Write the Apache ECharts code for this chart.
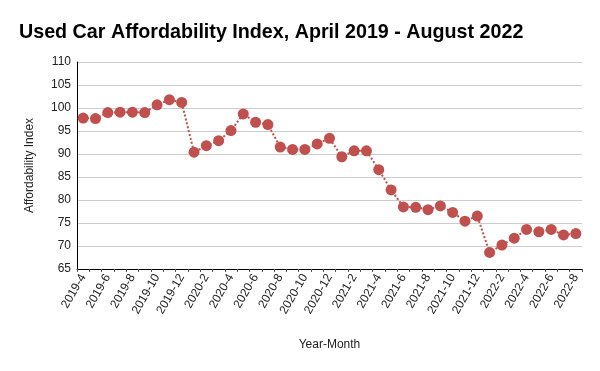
<!DOCTYPE html>
<html><head><meta charset="utf-8">
<script src="https://cdn.jsdelivr.net/npm/echarts@6/dist/echarts.min.js"></script>
<style>html,body{margin:0;padding:0;background:#fff}#c{width:600px;height:371px}</style>
</head><body><div id="c"></div>
<script>
const categories = [
 '2019-4','2019-5','2019-6','2019-7','2019-8','2019-9','2019-10','2019-11','2019-12',
 '2020-1','2020-2','2020-3','2020-4','2020-5','2020-6','2020-7','2020-8','2020-9','2020-10','2020-11','2020-12',
 '2021-1','2021-2','2021-3','2021-4','2021-5','2021-6','2021-7','2021-8','2021-9','2021-10','2021-11','2021-12',
 '2022-1','2022-2','2022-3','2022-4','2022-5','2022-6','2022-7','2022-8'];
const affordability = [
 97.8, 97.7, 99.0, 99.1, 99.1, 99.0, 100.7, 101.8, 101.2,
 90.4, 91.8, 92.9, 95.1, 98.7, 96.9, 96.4, 91.5, 91.0, 91.0, 92.2, 93.4,
 89.4, 90.7, 90.7, 86.6, 82.2, 78.5, 78.4, 77.9, 78.7, 77.3, 75.4, 76.5,
 68.6, 70.2, 71.7, 73.6, 73.1, 73.6, 72.4, 72.7];
const titleText = 'Used Car Affordability Index, April 2019 - August 2022';
const yMin = 65, yMax = 110, yStep = 5;

const chart = echarts.init(document.getElementById('c'), null, {renderer:'canvas'});
chart.setOption({
  animation: false,
  textStyle: {fontFamily: 'Liberation Sans, Arial, sans-serif'},
  title: {text: titleText, left: 14, top: 18,
    textStyle: {fontFamily: 'Liberation Sans, Arial, sans-serif', fontWeight: 'bold', fontSize: 19.7, color: '#000'}},
  grid: {left: 77, right: 18, top: 62, bottom: 102},
  xAxis: {
    type: 'category', data: categories, boundaryGap: true,
    name: 'Year-Month', nameLocation: 'middle', nameGap: 70,
    nameTextStyle: {fontSize: 12, color: '#222'},
    axisLine: {lineStyle: {color: '#000', width: 1}},
    axisTick: {show: true, interval: 0, length: 3, lineStyle: {color: '#555'}},
    axisLabel: {interval: 1, rotate: 60, fontSize: 12, color: '#222', margin: 6}
  },
  yAxis: {
    type: 'value', min: yMin, max: yMax, interval: yStep,
    name: 'Affordability Index', nameLocation: 'middle', nameGap: 41,
    nameTextStyle: {fontSize: 12, color: '#222'},
    axisLine: {show: true, lineStyle: {color: '#000'}},
    axisTick: {show: false},
    axisLabel: {fontSize: 12, color: '#222', margin: 6},
    splitLine: {lineStyle: {color: '#cccccc'}}
  },
  series: [{
    type: 'line', data: affordability,
    symbol: 'circle', symbolSize: 11, showAllSymbol: true,
    itemStyle: {color: '#c0504d'},
    lineStyle: {color: '#c0504d', type: 'dotted', width: 2}
  }]
});
</script></body></html>
